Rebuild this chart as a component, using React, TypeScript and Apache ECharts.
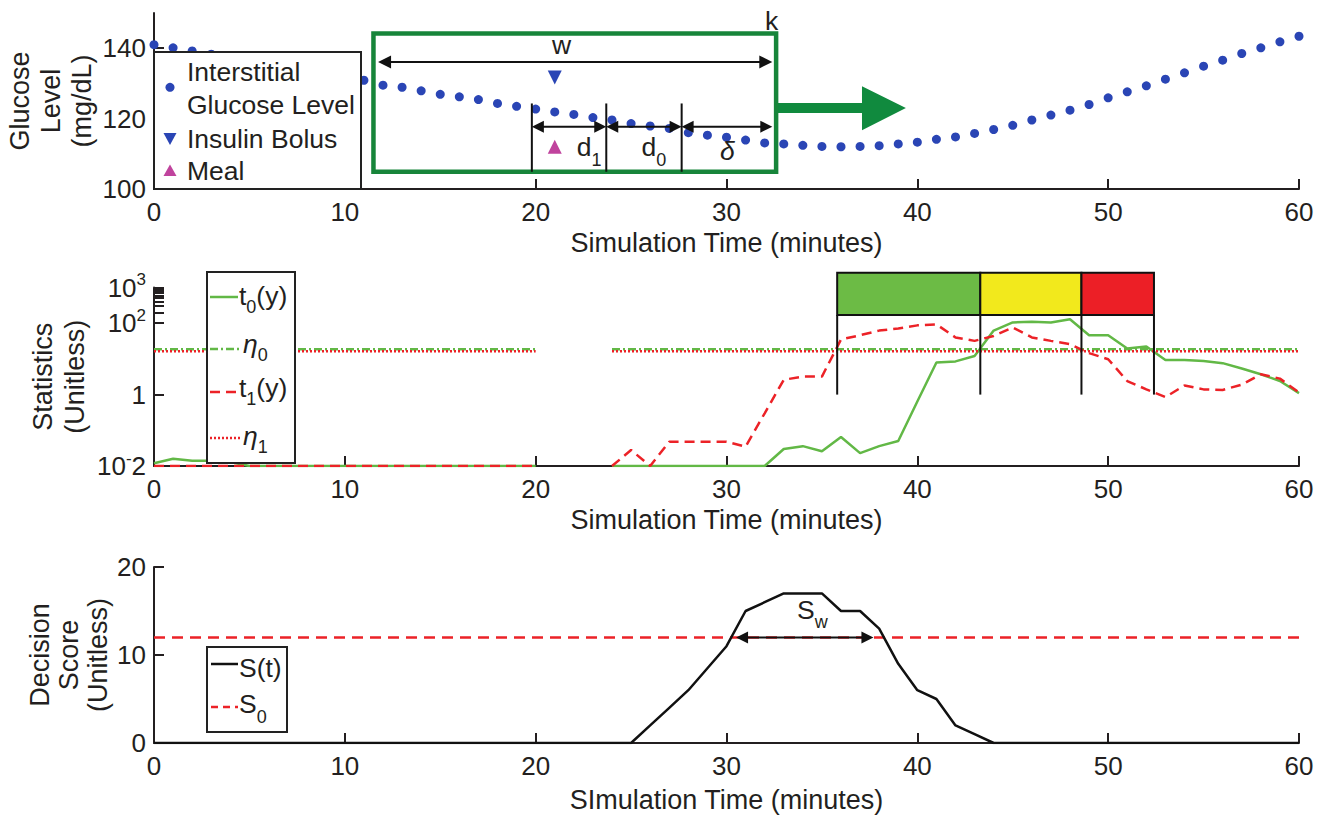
import React, { useEffect, useRef } from 'react';
import * as echarts from 'echarts';

const FONT = '"Liberation Sans", Arial, Helvetica, sans-serif';
const INK = '#231f20';
const BLUE = '#2a45b5';
const MAGENTA = '#c0439d';
const GREEN_LINE = '#62b846';
const RED = '#ec2227';
const BOX_GREEN = '#17853a';
const ARROW_GREEN = '#108a3e';

// ---------------- data ----------------
const minutes = [
  0, 1, 2, 3, 4, 5, 6, 7, 8, 9, 10, 11, 12, 13, 14, 15, 16, 17, 18, 19, 20,
  21, 22, 23, 24, 25, 26, 27, 28, 29, 30, 31, 32, 33, 34, 35, 36, 37, 38, 39, 40,
  41, 42, 43, 44, 45, 46, 47, 48, 49, 50, 51, 52, 53, 54, 55, 56, 57, 58, 59, 60,
];

const glucose = [
  141.0, 140.1, 139.2, 138.3, 137.4, 136.4, 135.5, 134.6, 133.7, 132.8, 131.8,
  130.9, 129.5, 128.9, 127.9, 126.9, 126.2, 125.4, 124.3, 123.5, 122.7,
  121.9, 121.2, 120.3, 119.6, 118.6, 117.9, 117.2, 116.0, 115.3, 114.7,
  113.9, 113.1, 112.8, 112.4, 112.1, 112.0, 112.1, 112.3, 112.8, 113.3,
  114.1, 114.8, 115.8, 116.9, 118.1, 119.6, 121.0, 122.4, 124.0, 125.9,
  127.6, 129.3, 131.2, 133.0, 134.9, 136.6, 138.5, 140.1, 141.8, 143.4,
];

const insulinBolus = [[21, 131.7]];
const meal = [[21, 112.0]];

const t0 = [
  0.012, 0.016, 0.014, 0.014, 0.013, 0.01, 0.01, 0.01, 0.01, 0.01, 0.01,
  0.01, 0.01, 0.01, 0.01, 0.01, 0.01, 0.01, 0.01, 0.01, 0.01,
  null, null, null, 0.01, 0.01, 0.01, 0.01, 0.01, 0.01, 0.01,
  0.01, 0.01, 0.030, 0.036, 0.026, 0.065, 0.023, 0.036, 0.050, 0.64,
  7.9, 8.5, 12, 62, 105, 110, 105, 129, 46, 46,
  19.5, 22.4, 9.3, 9.3, 8.7, 7.6, 5.4, 3.7, 2.4, 1.1,
];

const t1 = [
  0.01, 0.01, 0.01, 0.01, 0.01, 0.01, 0.01, 0.01, 0.01, 0.01, 0.01,
  0.01, 0.01, 0.01, 0.01, 0.01, 0.01, 0.01, 0.01, 0.01, 0.01,
  null, null, null, 0.01, 0.028, 0.01, 0.048, 0.048, 0.048, 0.048,
  0.035, 0.30, 2.6, 3.2, 3.2, 35, 46, 62, 71, 87,
  93, 40, 32, 44, 76, 40, 32, 26, 14.5, 9.8,
  2.4, 1.4, 0.85, 1.8, 1.4, 1.35, 1.9, 3.7, 2.8, 1.15,
];

const eta0 = 18.5;
const eta1 = 16.5;
const thresholdSpans = [[0, 20], [24, 60]];

const score = [
  0, 0, 0, 0, 0, 0, 0, 0, 0, 0, 0,
  0, 0, 0, 0, 0, 0, 0, 0, 0, 0,
  0, 0, 0, 0, 0, 2, 4, 6, 8.5, 11,
  15, 16, 17, 17, 17, 15, 15, 13, 9, 6,
  5, 2, 1, 0, 0, 0, 0, 0, 0, 0,
  0, 0, 0, 0, 0, 0, 0, 0, 0, 0,
];
const scoreThreshold = 12;

const glucoseTicks = [100, 120, 140];
const statTicks = [0.01, 1, 100, 1000];
const statMinorTicks = [0.01, 1, 100, 200, 300, 400, 500, 600, 700, 800, 900, 1000];

// annotation anchors (data units)
const windowBox = { x0: 11.5, x1: 32.6, y0: 104.9, y1: 144.2 };
const wArrow = { x0: 11.74, x1: 32.4, y: 136.1 };
const splitLines = [19.8, 23.7, 27.65];
const splitTop = 124.3;
const dArrowY = 117.7;
const slideArrow = { y: 123, headBase: 37.1, tip: 39.4, headTop: 129.2, headBottom: 116.7 };
const stageEdges = [35.8, 43.3, 48.6, 52.4];
const stageColors = ['#6cbb45', '#f2e91c', '#ec1f26'];
const stageBox = [170, 2600];
const stageLineBottom = 1;
const swArrow = { x0: 30.5, x1: 37.7 };

// ---------------- helpers ----------------
const pair = (ys: (number | null)[]) => minutes.map((t, i) => [t, ys[i]]);
const spanData = (v: number) => {
  const out: any[] = [];
  thresholdSpans.forEach((s, i) => {
    if (i > 0) out.push([(thresholdSpans[i - 1][1] + s[0]) / 2, null]);
    out.push([s[0], v], [s[1], v]);
  });
  return out;
};

function dblArrow(p1: number[], p2: number[], head: number, half: number, color: string, lw: number) {
  const dir = Math.sign(p2[0] - p1[0]);
  return [
    { type: 'line', shape: { x1: p1[0] + head * dir * 0.5, y1: p1[1], x2: p2[0] - head * dir * 0.5, y2: p2[1] }, style: { stroke: color, lineWidth: lw } },
    { type: 'polygon', shape: { points: [[p1[0], p1[1]], [p1[0] + head * dir, p1[1] - half], [p1[0] + head * dir, p1[1] + half]] }, style: { fill: color } },
    { type: 'polygon', shape: { points: [[p2[0], p2[1]], [p2[0] - head * dir, p2[1] - half], [p2[0] - head * dir, p2[1] + half]] }, style: { fill: color } },
  ];
}

const subRich = (subPad: number, subSize = 18) => ({
  m: { fontSize: 26.5, fontFamily: FONT, fill: INK, color: INK },
  mi: { fontSize: 26.5, fontFamily: FONT, fill: INK, color: INK, fontStyle: 'italic' },
  s: { fontSize: subSize, fontFamily: FONT, fill: INK, color: INK, padding: [subPad, 0, 0, 0] },
});

function txt(p: number[], text: string, rich?: any, align = 'center') {
  return {
    type: 'text', x: p[0], y: p[1],
    style: { text, fill: INK, fontSize: 26.5, fontFamily: FONT, align, verticalAlign: 'middle', rich },
  };
}

function renderTop(params: any, api: any) {
  const P = (x: number, y: number) => api.coord([x, y]);
  const ch: any[] = [];
  const tl = P(windowBox.x0, windowBox.y1);
  const br = P(windowBox.x1, windowBox.y0);
  const c0 = P(windowBox.x1, slideArrow.y);
  const b = P(slideArrow.headBase, slideArrow.y);
  const tip = P(slideArrow.tip, slideArrow.y);
  const ht = P(slideArrow.headBase, slideArrow.headTop);
  const hb = P(slideArrow.headBase, slideArrow.headBottom);
  ch.push({
    type: 'polygon',
    shape: { points: [[c0[0], c0[1] - 5], [b[0], b[1] - 5], [b[0], ht[1]], tip, [b[0], hb[1]], [b[0], b[1] + 5], [c0[0], c0[1] + 5]] },
    style: { fill: ARROW_GREEN },
  });
  ch.push({ type: 'rect', shape: { x: tl[0], y: tl[1], width: br[0] - tl[0], height: br[1] - tl[1] }, style: { fill: 'none', stroke: BOX_GREEN, lineWidth: 4.5 } });
  ch.push(...dblArrow(P(wArrow.x0, wArrow.y), P(wArrow.x1, wArrow.y), 13, 6.5, '#111', 2));
  splitLines.forEach((x) => {
    const a = P(x, splitTop); const z = P(x, windowBox.y0);
    ch.push({ type: 'line', shape: { x1: a[0], y1: a[1], x2: z[0], y2: z[1] }, style: { stroke: '#111', lineWidth: 2 } });
  });
  const dEdges = [...splitLines, wArrow.x1];
  for (let i = 0; i < dEdges.length - 1; i++) {
    ch.push(...dblArrow(P(dEdges[i], dArrowY), P(dEdges[i + 1], dArrowY), 12, 6, '#111', 2));
  }
  ch.push(txt(P(21.36, 141.0), 'w'));
  ch.push(txt(P(32.37, 147.7), 'k'));
  ch.push(txt(P(22.8, 111.9), '{m|d}{s|1}', subRich(26)));
  ch.push(txt(P(26.2, 111.9), '{m|d}{s|0}', subRich(26)));
  ch.push(txt(P(30.05, 110.8), '{mi|δ}', subRich(26)));
  return { type: 'group', children: ch };
}

function renderMid(params: any, api: any) {
  const P = (x: number, y: number) => api.coord([x, y]);
  const ch: any[] = [];
  for (let i = 0; i < stageColors.length; i++) {
    const a = P(stageEdges[i], stageBox[1]);
    const z = P(stageEdges[i + 1], stageBox[0]);
    ch.push({ type: 'rect', shape: { x: a[0], y: a[1], width: z[0] - a[0], height: z[1] - a[1] }, style: { fill: stageColors[i], stroke: '#111', lineWidth: 2 } });
  }
  stageEdges.forEach((x) => {
    const a = P(x, stageBox[0]); const z = P(x, stageLineBottom);
    ch.push({ type: 'line', shape: { x1: a[0], y1: a[1], x2: z[0], y2: z[1] }, style: { stroke: '#111', lineWidth: 2 } });
  });
  return { type: 'group', children: ch };
}

function renderBottom(params: any, api: any) {
  const P = (x: number, y: number) => api.coord([x, y]);
  const ch: any[] = [];
  ch.push(...dblArrow(P(swArrow.x0, scoreThreshold), P(swArrow.x1, scoreThreshold), 12, 6, '#111', 2));
  ch.push(txt(P(34.5, 15.15), '{m|S}{s|w}', subRich(24)));
  return { type: 'group', children: ch };
}

// ---------------- axes ----------------
const axisLine = { show: true, onZero: false, lineStyle: { color: INK, width: 2 } };
const axisTick = { show: true, inside: true, length: 10, lineStyle: { color: INK, width: 2 } };
const labelStyle = { color: INK, fontSize: 26, fontFamily: FONT };
const nameStyle = { color: INK, fontSize: 27, fontFamily: FONT };

function xAxis(gridIndex: number, name: string, nameGap: number) {
  return {
    type: 'value', gridIndex, min: 0, max: 60, interval: 10,
    axisLine, axisTick, axisLabel: { ...labelStyle, margin: 10 }, splitLine: { show: false },
    name, nameLocation: 'middle', nameGap, nameMoveOverlap: false, nameTextStyle: { ...nameStyle },
  };
}

const logLabel = (v: number) => {
  const e = Math.round(Math.log10(v));
  if (e === 0) return '{b|1}';
  if (e === -2) return '{b|10}{sup|-}{b|2}';
  return `{b|10}{sup|${e}}`;
};

const legendText = (x: number, y: number, text: string, rich?: any) => ({
  type: 'text', z: 101, x, y,
  style: { text, fill: INK, fontSize: 26.5, fontFamily: FONT, verticalAlign: 'middle', align: 'left', rich },
});
const legendLine = (y: number, color: string, dash: any, x1 = 210, x2 = 238) => ({
  type: 'line', z: 101, shape: { x1, y1: y, x2, y2: y },
  style: { stroke: color, lineWidth: 2.5, lineDash: dash },
});

const option: any = {
  animation: false,
  backgroundColor: '#ffffff',
  grid: [
    { left: 154, right: 29, top: 13, height: 176, outerBoundsMode: 'none' },
    { left: 154, right: 29, top: 287.5, height: 178.5, outerBoundsMode: 'none' },
    { left: 154, right: 29, top: 567, height: 176, outerBoundsMode: 'none' },
  ],
  xAxis: [
    xAxis(0, 'Simulation Time (minutes)', 40),
    xAxis(1, 'Simulation Time (minutes)', 40),
    xAxis(2, 'SImulation Time (minutes)', 43),
  ],
  yAxis: [
    {
      type: 'value', gridIndex: 0, min: 100, max: 150,
      axisLine, axisTick: { ...axisTick, customValues: glucoseTicks },
      axisLabel: { ...labelStyle, margin: 8, customValues: glucoseTicks }, splitLine: { show: false },
      name: 'Glucose\nLevel\n(mg/dL)', nameLocation: 'middle', nameRotate: 90, nameGap: 57, nameMoveOverlap: false,
      nameTextStyle: { ...nameStyle, lineHeight: 31 },
    },
    {
      type: 'log', logBase: 10, gridIndex: 1, min: 0.01, max: 1000,
      axisLine, axisTick: { ...axisTick, customValues: statMinorTicks },
      axisLabel: {
        ...labelStyle, margin: 8, customValues: statTicks, formatter: logLabel,
        rich: {
          b: { fontSize: 26, fontFamily: FONT, color: INK },
          sup: { fontSize: 17, fontFamily: FONT, color: INK, padding: [0, 0, 16, 0] },
        },
      },
      splitLine: { show: false }, minorTick: { show: false },
      name: 'Statistics\n(Unitless)', nameLocation: 'middle', nameRotate: 90, nameGap: 63, nameMoveOverlap: false,
      nameTextStyle: { ...nameStyle, lineHeight: 32 },
    },
    {
      type: 'value', gridIndex: 2, min: 0, max: 20, interval: 10,
      axisLine, axisTick, axisLabel: { ...labelStyle, margin: 8 }, splitLine: { show: false },
      name: 'Decision\nScore\n(Unitless)', nameLocation: 'middle', nameRotate: 90, nameGap: 42, nameMoveOverlap: false,
      nameTextStyle: { ...nameStyle, lineHeight: 29 },
    },
  ],
  series: [
    {
      name: 'Interstitial Glucose Level', type: 'scatter', xAxisIndex: 0, yAxisIndex: 0,
      data: pair(glucose), symbol: 'circle', symbolSize: 9, itemStyle: { color: BLUE, opacity: 1 }, z: 3,
    },
    {
      name: 'Insulin Bolus', type: 'scatter', xAxisIndex: 0, yAxisIndex: 0,
      data: insulinBolus, symbol: 'triangle', symbolRotate: 180, symbolSize: 14, itemStyle: { color: BLUE, opacity: 1 }, z: 3,
    },
    {
      name: 'Meal', type: 'scatter', xAxisIndex: 0, yAxisIndex: 0,
      data: meal, symbol: 'triangle', symbolSize: 14, itemStyle: { color: MAGENTA, opacity: 1 }, z: 3,
    },
    {
      type: 'custom', xAxisIndex: 0, yAxisIndex: 0, data: [[0, 120]], renderItem: renderTop, clip: false, silent: true, z: 4,
    },
    {
      name: 't0(y)', type: 'line', xAxisIndex: 1, yAxisIndex: 1, data: pair(t0), showSymbol: false, connectNulls: false,
      lineStyle: { color: GREEN_LINE, width: 2.5 }, itemStyle: { color: GREEN_LINE }, z: 3,
    },
    {
      name: 'η0', type: 'line', xAxisIndex: 1, yAxisIndex: 1, data: spanData(eta0), showSymbol: false, connectNulls: false,
      lineStyle: { color: GREEN_LINE, width: 2.5, type: [8, 3, 2, 3] }, itemStyle: { color: GREEN_LINE }, z: 3,
    },
    {
      name: 't1(y)', type: 'line', xAxisIndex: 1, yAxisIndex: 1, data: pair(t1), showSymbol: false, connectNulls: false,
      lineStyle: { color: RED, width: 2.5, type: [10, 6] }, itemStyle: { color: RED }, z: 3,
    },
    {
      name: 'η1', type: 'line', xAxisIndex: 1, yAxisIndex: 1, data: spanData(eta1), showSymbol: false, connectNulls: false,
      lineStyle: { color: RED, width: 2.5, type: [2, 2] }, itemStyle: { color: RED }, z: 3,
    },
    {
      type: 'custom', xAxisIndex: 1, yAxisIndex: 1, data: [[0, 1]], renderItem: renderMid, clip: false, silent: true, z: 4,
    },
    {
      name: 'S0', type: 'line', xAxisIndex: 2, yAxisIndex: 2, data: [[0, scoreThreshold], [60, scoreThreshold]], showSymbol: false,
      lineStyle: { color: RED, width: 2.5, type: [11, 7] }, itemStyle: { color: RED }, z: 3,
    },
    {
      name: 'S(t)', type: 'line', xAxisIndex: 2, yAxisIndex: 2, data: pair(score), showSymbol: false,
      lineStyle: { color: '#111', width: 2.5 }, itemStyle: { color: '#111' }, z: 3,
    },
    {
      type: 'custom', xAxisIndex: 2, yAxisIndex: 2, data: [[0, 0]], renderItem: renderBottom, clip: false, silent: true, z: 4,
    },
  ],
  graphic: [
    // top legend
    { type: 'rect', z: 100, shape: { x: 154, y: 52, width: 207, height: 137 }, style: { fill: '#fff', stroke: '#222', lineWidth: 2 } },
    { type: 'circle', z: 101, shape: { cx: 170, cy: 87.3, r: 4.5 }, style: { fill: BLUE } },
    { type: 'text', z: 101, x: 187, y: 88.5, style: { text: 'Interstitial\nGlucose Level', fill: INK, fontSize: 26.5, fontFamily: FONT, lineHeight: 33, verticalAlign: 'middle', align: 'left' } },
    { type: 'polygon', z: 101, shape: { points: [[163.5, 133], [176.5, 133], [170, 145]] }, style: { fill: BLUE } },
    legendText(187, 139, 'Insulin Bolus'),
    { type: 'polygon', z: 101, shape: { points: [[163.5, 176], [176.5, 176], [170, 164.5]] }, style: { fill: MAGENTA } },
    legendText(187, 171, 'Meal'),
    // middle legend
    { type: 'rect', z: 100, shape: { x: 207, y: 272, width: 88, height: 191 }, style: { fill: '#fff', stroke: '#222', lineWidth: 2 } },
    legendLine(297, GREEN_LINE, null),
    legendText(239, 296, '{m|t}{s|0}{m|(y)}', subRich(22)),
    legendLine(349, GREEN_LINE, [8, 3, 2, 3], 210, 242),
    legendText(243, 344, '{mi|η}{s|0}', subRich(22)),
    legendLine(392, RED, [10, 6]),
    legendText(239, 388, '{m|t}{s|1}{m|(y)}', subRich(22)),
    legendLine(438, RED, [2, 2], 210, 242),
    legendText(243, 436, '{mi|η}{s|1}', subRich(22)),
    // bottom legend
    { type: 'rect', z: 100, shape: { x: 207, y: 647, width: 80, height: 85 }, style: { fill: '#fff', stroke: '#222', lineWidth: 2 } },
    legendLine(664, '#111', null, 211, 238),
    legendText(239, 668, 'S(t)'),
    legendLine(707, RED, [7, 5], 211, 238),
    legendText(239, 704, '{m|S}{s|0}', subRich(26)),
  ],
};

export default function App() {
  const ref = useRef<HTMLDivElement>(null);
  useEffect(() => {
    const chart = echarts.init(ref.current as HTMLDivElement, null, { renderer: 'svg' });
    chart.setOption(option);
    return () => chart.dispose();
  }, []);
  return (
    <div
      ref={ref}
      style={{ position: 'absolute', left: 0, top: 0, width: 1328, height: 819, background: '#fff' }}
    />
  );
}
